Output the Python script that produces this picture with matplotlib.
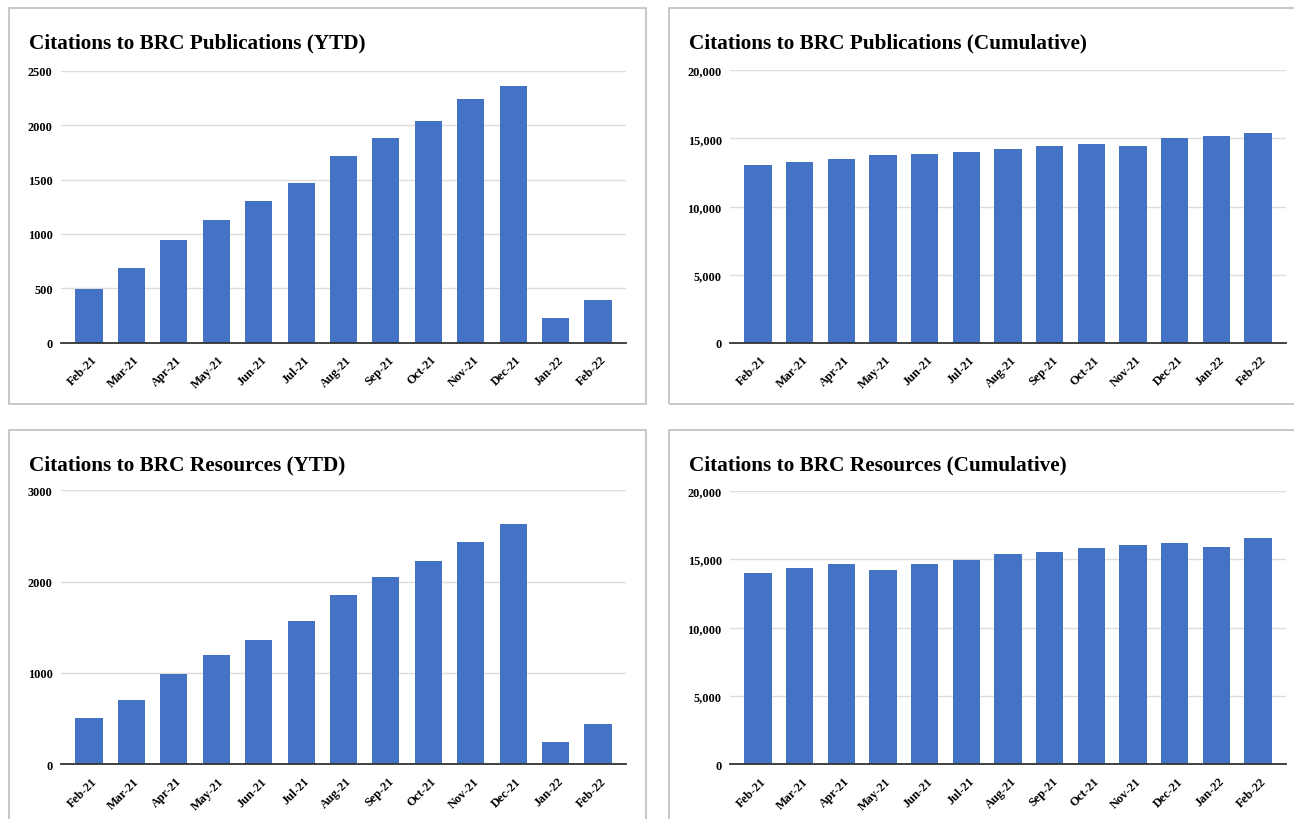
import matplotlib
matplotlib.use('Agg')
import matplotlib.pyplot as plt
import matplotlib.transforms as mtransforms
from matplotlib.patches import Rectangle
from matplotlib.ticker import FuncFormatter

months = ['Feb-21', 'Mar-21', 'Apr-21', 'May-21', 'Jun-21', 'Jul-21', 'Aug-21',
          'Sep-21', 'Oct-21', 'Nov-21', 'Dec-21', 'Jan-22', 'Feb-22']
pubs_ytd = [496, 688, 944, 1127, 1300, 1468, 1720, 1877, 2040, 2242, 2356, 223, 392]
pubs_cum = [13057, 13276, 13495, 13739, 13812, 13983, 14202, 14445, 14591, 14445,
            15006, 15201, 15371]
res_ytd = [511, 708, 989, 1197, 1361, 1569, 1850, 2047, 2223, 2431, 2628, 248, 445]
res_cum = [13958, 14348, 14665, 14202, 14665, 14957, 15371, 15517, 15834, 16053,
           16199, 15907, 16516]

W, H = 1294, 820
BLUE = '#4472c4'

plt.rcParams['font.family'] = ['Liberation Serif', 'DejaVu Serif']
plt.rcParams['font.weight'] = 'bold'


def px_rect(x0, y0, x1, y1):
    """pixel box (top-left origin) -> figure fraction rect"""
    return [x0 / W, 1 - y1 / H, (x1 - x0) / W, (y1 - y0) / H]


def draw_panel(fig, box, axbox, title, values, yticks, comma, bar_w, xpad):
    # panel frame
    x0, y0, x1, y1 = box
    fig.patches.append(Rectangle((x0 / W, 1 - y1 / H), (x1 - x0) / W, (y1 - y0) / H,
                                 transform=fig.transFigure, fill=False,
                                 edgecolor='#c4c4c4', lw=1.3, clip_on=False))
    fig.text((x0 + 20) / W, 1 - (y0 + 39) / H, title, fontsize=15.3,
             fontweight='bold', va='baseline', ha='left')

    ax = fig.add_axes(px_rect(*axbox))
    x = range(len(values))
    ax.bar(x, values, width=bar_w, color=BLUE, zorder=3)
    ax.set_xlim(-xpad, len(values) - 1 + xpad)
    ax.set_ylim(yticks[0], yticks[-1])
    ax.set_yticks(yticks)
    if comma:
        ax.yaxis.set_major_formatter(FuncFormatter(lambda v, p: '{:,.0f}'.format(v)))
    ax.set_xticks(list(x))
    ax.set_xticklabels(months, rotation=45, ha='right', rotation_mode='anchor')
    ax.tick_params(axis='both', length=0, labelsize=8.8)
    ax.tick_params(axis='x', pad=7.5)
    ax.tick_params(axis='y', pad=6)
    shift = mtransforms.ScaledTranslation(2 / 100, 0, fig.dpi_scale_trans)
    for lab in ax.get_xticklabels():
        lab.set_transform(lab.get_transform() + shift)
    ax.grid(axis='y', color='#dcdcdc', lw=1.0, zorder=0)
    for s in ['top', 'right', 'left']:
        ax.spines[s].set_visible(False)
    ax.spines['bottom'].set_color('#333333')
    ax.spines['bottom'].set_linewidth(1.3)
    ax.spines['bottom'].set_zorder(4)
    return ax


def main():
    fig = plt.figure(figsize=(W / 100, H / 100), dpi=100)
    draw_panel(fig, (9, 9, 646, 405), (61, 71.7, 626, 343.7),
               'Citations to BRC Publications (YTD)', pubs_ytd,
               [0, 500, 1000, 1500, 2000, 2500], False, 0.64, 0.66)
    draw_panel(fig, (669, 9, 1310, 405), (730, 71, 1286, 344),
               'Citations to BRC Publications (Cumulative)', pubs_cum,
               [0, 5000, 10000, 15000, 20000], True, 0.655, 0.67)
    draw_panel(fig, (9, 431, 646, 840), (61, 491.3, 626, 765.3),
               'Citations to BRC Resources (YTD)', res_ytd,
               [0, 1000, 2000, 3000], False, 0.64, 0.66)
    draw_panel(fig, (669, 431, 1310, 840), (730, 491.7, 1286, 765.3),
               'Citations to BRC Resources (Cumulative)', res_cum,
               [0, 5000, 10000, 15000, 20000], True, 0.655, 0.67)
    fig.savefig('out.png', dpi=100, facecolor='white')


if __name__ == '__main__':
    main()
